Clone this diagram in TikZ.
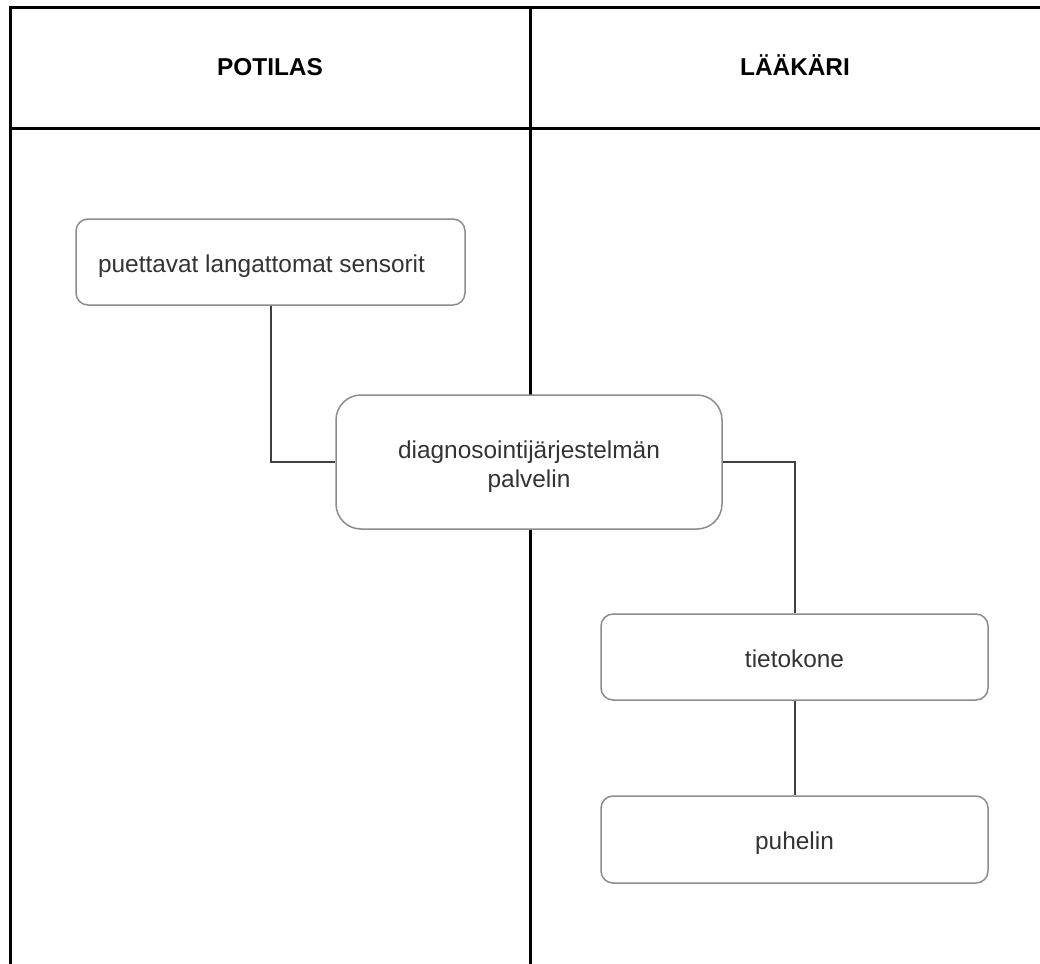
\documentclass[tikz,border=0pt]{standalone}
\usepackage{fontspec}
\setmainfont{Liberation Sans}
\begin{document}
\begin{tikzpicture}[x=1pt,y=-1pt,
  frame/.style={line width=3pt,black},
  boxsmall/.style={draw=black!45,line width=1.5pt,fill=white,rounded corners=12pt,
    inner sep=0pt,text=black!80,font=\fontsize{24.4}{29}\selectfont,align=center,
    text height=24pt,text depth=3.5pt},
  boxbig/.style={boxsmall,rounded corners=25pt,text height=55pt,text depth=4.5pt},
  header/.style={font=\fontsize{24.4}{29}\selectfont\bfseries,text=black,anchor=base},
  conn/.style={line width=2pt,black!75}]
\useasboundingbox (0,0) rectangle (1040,963);
\begin{scope}
\clip (0,0) rectangle (1040,963);
\draw[frame] (10,7.5) -- (1045,7.5);
\draw[frame] (10,6) -- (10,970);
\draw[frame] (10,128) -- (1045,128);
\draw[frame] (530,6) -- (530,970);
\end{scope}
\node[header] (h1) at (270,76) {POTILAS};
\node[header] (h2) at (795,76) {LÄÄKÄRI};
\node[boxsmall,minimum width=389pt,minimum height=86pt] (s) at (270.5,262) {puettavat langattomat sensorit\hspace*{18pt}};
\node[boxbig,minimum width=386pt,minimum height=134pt] (d) at (529,462) {diagnosointijärjestelmän\\palvelin};
\node[boxsmall,minimum width=387pt,minimum height=86pt] (t) at (794.5,657) {tietokone};
\node[boxsmall,minimum width=387pt,minimum height=87pt] (p) at (794.5,839.5) {puhelin};
\draw[conn] (s.south) |- (d.west);
\draw[conn] (d.east) -| (t.north);
\draw[conn] (t.south) -- (p.north);
\end{tikzpicture}
\end{document}
